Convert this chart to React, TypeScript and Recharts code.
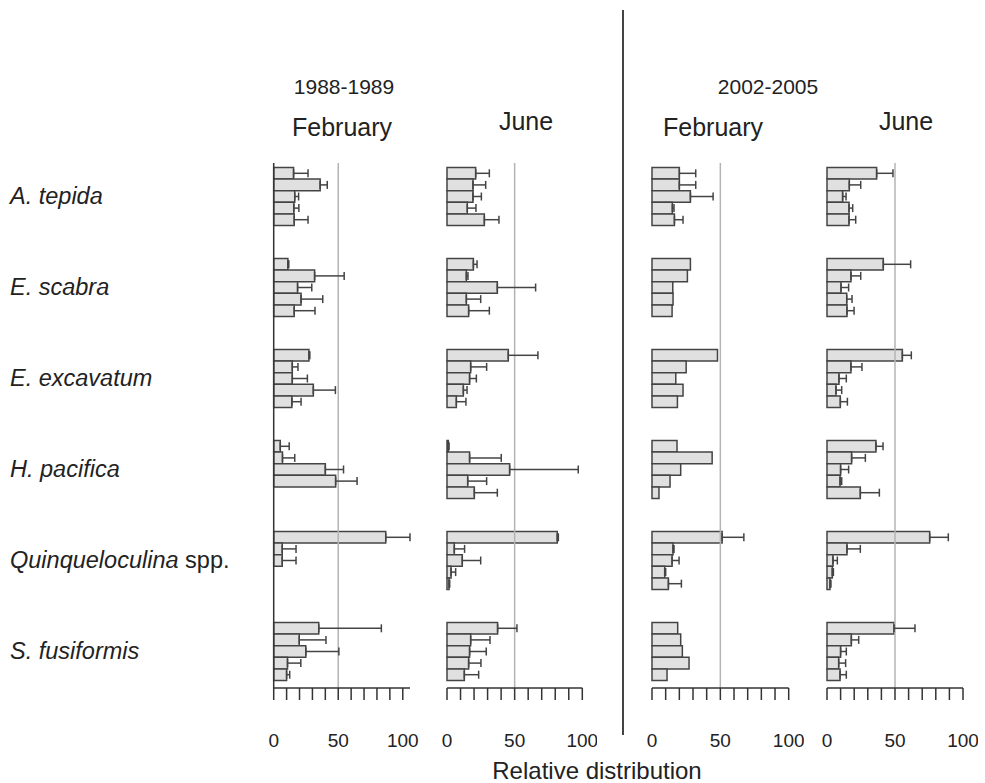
import React from 'react';
import { BarChart, Bar, XAxis, YAxis, ErrorBar, ReferenceLine } from 'recharts';

const FONT = '"Liberation Sans", Arial, sans-serif';

const species = ['A. tepida', 'E. scabra', 'E. excavatum', 'H. pacifica', 'Quinqueloculina', 'S. fusiformis'];
const xTicks = [0, 10, 20, 30, 40, 50, 60, 70, 80, 90, 100];
const labelledTicks = [0, 50, 100];

// 1988-1989, February
const feb1988Mean = [
  [15.4, 36, 16.3, 15.6, 15.9],
  [11, 31.7, 18.5, 21.2, 15.9],
  [27.3, 14.4, 14.4, 30.7, 14.1],
  [5.1, 6.8, 40, 48, 0],
  [86.8, 6.6, 6.6, 0, 0],
  [34.9, 19.8, 24.9, 10.7, 10],
];
const feb1988Err = [
  [11.2, 5.5, 3, 3.9, 10.7],
  [0.7, 22.9, 11, 16.8, 16.1],
  [0.7, 4.4, 11.7, 17.1, 7.1],
  [6.9, 9.5, 14.1, 16.6, 0],
  [18.8, 10.7, 10.7, 0, 0],
  [48.5, 20.7, 25.6, 10.3, 2.4],
];

// 1988-1989, June
const jun1988Mean = [
  [21.2, 19.2, 19.2, 15, 27.6],
  [19.5, 14.3, 37.2, 14.3, 16],
  [45.3, 17.5, 16.7, 12.1, 6.9],
  [1, 16.7, 46.3, 15.3, 20.2],
  [81.5, 5.4, 11.3, 3, 1.5],
  [37.4, 17.5, 16.7, 16, 12.8],
];
const jun1988Err = [
  [10.1, 9.4, 6.2, 6.4, 10.8],
  [2.7, 1.2, 28.3, 10.6, 15.3],
  [21.9, 11.8, 5, 2.7, 7.1],
  [0.5, 23.4, 50.7, 14, 17],
  [0.8, 7.6, 13.6, 3.4, 0.5],
  [14.3, 14.3, 12.3, 9.1, 10.6],
];

// 2002-2005, February
const feb2002Mean = [
  [20, 20, 28.1, 14.9, 16.4],
  [28.1, 25.9, 15.2, 15.4, 14.7],
  [47.9, 25, 17.4, 22.7, 18.6],
  [18.3, 44, 21, 13.2, 5.1],
  [51.3, 15.4, 14.7, 9.3, 12],
  [18.8, 21, 22.2, 27.1, 11],
];
const feb2002Err = [
  [12, 12, 16.6, 1.2, 6.3],
  [0, 0, 0, 0, 0],
  [0, 0, 0, 0, 0],
  [0, 0, 0, 0, 0],
  [15.9, 0.7, 5.1, 0.7, 9.5],
  [0, 0, 0, 0, 0],
];

// 2002-2005, June
const jun2002Mean = [
  [36.5, 16.4, 11.5, 16.2, 16.2],
  [41.4, 17.6, 10.3, 14.5, 14.7],
  [55.4, 17.6, 8.8, 6.6, 9.8],
  [36, 18.1, 10, 9.6, 24.5],
  [75.5, 14.7, 4.4, 3.9, 2.2],
  [49.3, 17.9, 10, 8.6, 9.6],
];
const jun2002Err = [
  [12, 8.4, 2.5, 2.7, 4.9],
  [20.1, 7.2, 5.6, 3.9, 5.2],
  [6.6, 8.1, 5.4, 4.2, 5.2],
  [5.2, 10.1, 5.9, 1.2, 14],
  [13.7, 9.8, 3.2, 0.8, 0.7],
  [15.4, 5.4, 4.2, 5.1, 4.6],
];

const toRows = (mean: number[][], err: number[][]) =>
  species.map((name, i) => {
    const row: any = { species: name };
    mean[i].forEach((v, j) => {
      row[`v${j}`] = v;
      row[`e${j}`] = err[i][j] ? [0, err[i][j]] : null;
    });
    return row;
  });

const SpeciesTick = (props: any) => {
  const { y, payload } = props;
  const name = payload.value as string;
  return (
    <text x={10} y={y} dy="0.35em" fill="#222" fontSize={23.5} fontFamily={FONT} textAnchor="start">
      <tspan fontStyle="italic">{name}</tspan>
      {name === 'Quinqueloculina' ? <tspan> spp.</tspan> : null}
    </text>
  );
};

type PanelProps = {
  mean: number[][];
  err: number[][];
  left: number;
  plotLeft: number;
  plotWidth: number;
  withLabels?: boolean;
};

const Panel = ({ mean, err, left, plotLeft, plotWidth, withLabels }: PanelProps) => {
  const data = toRows(mean, err);
  const yAxisWidth = withLabels ? plotLeft - left - 10 : 0;
  const width = 10 + yAxisWidth + plotWidth + 15;
  return (
    <div style={{ position: 'absolute', left, top: 140 }}>
      <BarChart
        layout="vertical"
        width={width}
        height={618}
        data={data}
        margin={{ top: 23, right: 15, left: 10, bottom: 0 }}
        barGap={0}
        barSize={11.6}
      >
        <XAxis
          type="number"
          domain={[0, 100]}
          ticks={xTicks}
          interval={0}
          height={70}
          tickSize={12}
          tickMargin={34}
          tickFormatter={(v: number) => (labelledTicks.includes(v) ? String(v) : '')}
          axisLine={{ stroke: '#333', strokeWidth: 1.5 }}
          tickLine={{ stroke: '#333', strokeWidth: 1.5 }}
          tick={{ fill: '#222', fontSize: 19, fontFamily: FONT }}
        />
        <YAxis
          type="category"
          dataKey="species"
          width={yAxisWidth}
          padding={{ top: -12.5, bottom: -8.5 }}
          axisLine={{ stroke: '#333', strokeWidth: 1.5 }}
          tickLine={false}
          tick={withLabels ? <SpeciesTick /> : false}
          interval={0}
        />
        <ReferenceLine x={50} stroke="#b4b4b4" strokeWidth={1.5} />
        {[0, 1, 2, 3, 4].map((j) => (
          <Bar
            key={j}
            dataKey={`v${j}`}
            fill="#e0e0e0"
            stroke="#444"
            strokeWidth={1.5}
            isAnimationActive={false}
          >
            <ErrorBar dataKey={`e${j}`} direction="x" width={4} stroke="#444" strokeWidth={1.5} />
          </Bar>
        ))}
      </BarChart>
    </div>
  );
};

const Label = ({ x, y, size, children }: { x: number; y: number; size: number; children: React.ReactNode }) => (
  <div
    style={{
      position: 'absolute',
      left: x,
      top: y,
      transform: 'translate(-50%, -50%)',
      fontFamily: FONT,
      fontSize: size,
      color: '#222',
      whiteSpace: 'nowrap',
      lineHeight: 1.15,
    }}
  >
    {children}
  </div>
);

export default function App() {
  return (
    <div style={{ position: 'absolute', left: 0, top: 0, width: 985, height: 783, background: '#fff', overflow: 'hidden' }}>
      <Panel mean={feb1988Mean} err={feb1988Err} left={0} plotLeft={273.7} plotWidth={136.3} withLabels />
      <Panel mean={jun1988Mean} err={jun1988Err} left={437} plotLeft={447} plotWidth={135.3} />
      <Panel mean={feb2002Mean} err={feb2002Err} left={642.3} plotLeft={652.3} plotWidth={136.7} />
      <Panel mean={jun2002Mean} err={jun2002Err} left={817} plotLeft={827} plotWidth={136} />

      <div style={{ position: 'absolute', left: 622, top: 10, width: 1.5, height: 725, background: '#444' }} />

      <Label x={344} y={87} size={21}>1988-1989</Label>
      <Label x={768} y={87} size={21}>2002-2005</Label>
      <Label x={342} y={127} size={25}>February</Label>
      <Label x={526} y={121} size={25}>June</Label>
      <Label x={713} y={127} size={25}>February</Label>
      <Label x={906} y={121} size={25}>June</Label>
      <Label x={597} y={771} size={24}>Relative distribution</Label>
    </div>
  );
}
